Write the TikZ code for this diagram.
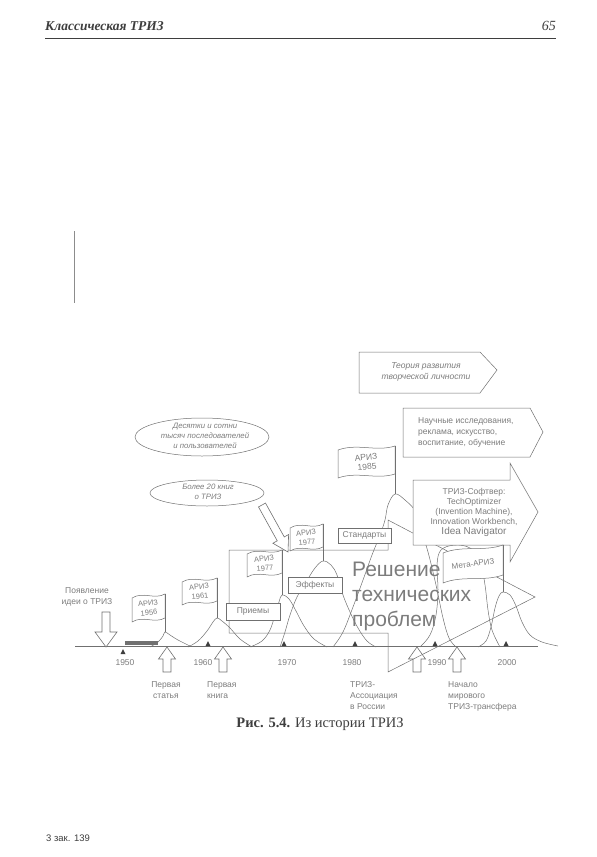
\documentclass[tikz,border=0pt]{standalone}
\usepackage{fontspec}
\setmainfont{Liberation Serif}
\setsansfont{Liberation Sans}
\usetikzlibrary{calc}
\definecolor{inkgray}{HTML}{707070}
\definecolor{textgray}{HTML}{7C7C7C}
\definecolor{headgray}{HTML}{3E3E3E}
\tikzset{
  hill/.style={inkgray,line width=0.5pt},
  flagbody/.style={draw=inkgray,fill=white,line width=0.5pt},
  tagbox/.style={draw=inkgray,fill=white,line width=0.5pt,text=textgray,
    font=\sffamily\fontsize{8.5}{10}\selectfont,inner sep=0pt},
  post/.style={draw=inkgray,fill=white,line width=0.5pt},
  hollow/.style={draw=inkgray,fill=white,line width=0.6pt},
  lbl/.style={text=textgray,font=\sffamily\fontsize{8.5}{11}\selectfont,inner sep=0pt,align=left},
  ilbl/.style={lbl,font=\sffamily\itshape\fontsize{7.8}{10}\selectfont,align=center},
  flagtext/.style={text=textgray,inner sep=0pt,align=center,rotate=6}
}
\begin{document}
\begin{tikzpicture}[x=1pt,y=-1pt]
  \useasboundingbox (0,0) rectangle (597,857);
  % running head
  \node[anchor=base west,inner sep=0,text=headgray,font=\bfseries\itshape\fontsize{13.5}{16}\selectfont] (runhead) at (45,30) {Классическая ТРИЗ};
  \node[anchor=base east,inner sep=0,text=headgray,font=\itshape\fontsize{14}{16}\selectfont] (pageno) at (556,30) {65};
  \draw[headgray,line width=0.6pt] (45,38) -- (556,38);
  \draw[black!45,line width=1pt] (74,231) -- (74,303);

  % development curves
  \draw[hill] plot[smooth,tension=0.6] coordinates {(150,647) (158,642) (163,636) (165,632) (170,635) (178,640) (190,646)};
  \draw[hill] plot[smooth,tension=0.6] coordinates {(188,647) (198,641) (207,631) (213,622) (217,618) (222,621) (230,628) (240,639) (252,647)};
  \draw[hill] plot[smooth,tension=0.6] coordinates {(250,647) (262,641) (270,630) (275,615) (279,602) (282,595) (289,599) (296,611) (304,626) (314,639) (327,647)};
  \draw[hill] plot[smooth,tension=0.6] coordinates {(280,647) (285,632) (290,615) (297,597) (306,582) (315,568) (323,561) (331,565) (337,575) (343,595) (350,612) (358,628) (367,641) (376,647)};
  \draw[hill] plot[smooth,tension=0.6] coordinates {(333,647) (343,632) (353,607) (363,580) (372,555) (380,535) (385,520) (388,505) (395,494) (405,500) (416,512) (421,530) (428,552) (436,585) (443,618) (449,638) (456,647)};
  \draw[hill] plot[smooth,tension=0.6] coordinates {(420,647) (430,635) (436,615) (438,590) (437,565) (441,550) (455,545) (470,548) (480,560) (485,585) (488,610) (492,630) (500,647)};
  \draw[hill] plot[smooth,tension=0.6] coordinates {(478,647) (486,641) (491,627) (495,608) (499,596) (503,592) (510,595) (516,606) (522,622) (530,635) (542,642) (558,646)};

  % time axis
  \draw[inkgray,line width=0.6pt] (75,646) -- (538,646);
  \fill[inkgray] (125,641) rectangle (158,645);
  \fill[headgray] (120.5,654) -- (125.5,654) -- (123,649) -- cycle;
  \foreach \tx in {208,284,355,435,506}
    \fill[headgray] (\tx-2.5,646) -- (\tx+2.5,646) -- (\tx,641) -- cycle;
  \foreach \yr/\yx in {1950/125,1960/203,1970/287,1980/352,1990/437,2000/507}
    \node[lbl] (y\yr) at (\yx,663) {\yr};

  % events below the axis
  \foreach \ax in {167,223,417,457}
    \draw[hollow] (\ax,647) -- (\ax+8.5,659) -- (\ax+4,659) -- (\ax+4,672)
      -- (\ax-4,672) -- (\ax-4,659) -- (\ax-8.5,659) -- cycle;
  \draw[hollow] (106,647) -- (117,632) -- (110,632) -- (110,612) -- (102,612)
    -- (102,632) -- (95,632) -- cycle;
  \node[lbl,align=center] (idea) at (87,597) {Появление\\идеи о ТРИЗ};
  \node[lbl,align=center,anchor=north] (article) at (166,681) {Первая\\статья};
  \node[lbl,anchor=north west] (book) at (207,681) {Первая\\книга};
  \node[lbl,anchor=north west] (assoc) at (350,681) {ТРИЗ-\\Ассоциация\\в России};
  \node[lbl,anchor=north west] (transfer) at (448,681) {Начало\\мирового\\ТРИЗ-трансфера};

  % problem solving arrow
  \draw[hill] (229,550) -- (388,550) -- (388,520) -- (535,597) -- (388,672)
    -- (388,633) -- (229,633) -- cycle;
  \node[tagbox,minimum width=54pt,minimum height=17pt] (priemy) at (253,611.5) {Приемы};
  \node[tagbox,minimum width=54pt,minimum height=16pt] (effekty) at (315,585) {Эффекты};
  \node[tagbox,minimum width=53pt,minimum height=15pt] (standarty) at (364.5,535.5) {Стандарты};

  % flags
  \foreach \nm/\px/\py/\fw/\fh/\pb/\fs/\txt in {
      f56/165/594/33/24/632/7.5/{АРИЗ\\1956},
      f61/217/578/35/23/618/7.5/{АРИЗ\\1961},
      f77a/282/550/35/23/595/7.5/{АРИЗ\\1977},
      f77b/323/524/33/23/561/7.5/{АРИЗ\\1977},
      f85/395/446/57/28/494/8.5/{АРИЗ\\1985}}{
    \draw[flagbody] (\px-\fw,\py+4) .. controls (\px-0.66*\fw,\py-3) and (\px-0.33*\fw,\py+6) .. (\px,\py)
      -- (\px,\py+\fh) .. controls (\px-0.33*\fw,\py+\fh+6) and (\px-0.66*\fw,\py+\fh-3) .. (\px-\fw,\py+\fh+4) -- cycle;
    \draw[hill] (\px,\py) -- (\px,\pb);
    \node[flagtext,font=\sffamily\fontsize{\fs}{9.5}\selectfont] (\nm) at (\px-0.5*\fw,\py+0.5*\fh+2) {\txt};
  }
  % followers and books
  \draw[hill] (202,437) ellipse (67 and 19);
  \node[ilbl] (followers) at (205,436) {Десятки и сотни\\тысяч последователей\\и пользователей};
  \draw[hill] (207,493) ellipse (57 and 13);
  \node[ilbl] (books) at (208,492) {Более 20 книг\\о ТРИЗ};
  \coordinate (bk0) at (262,505);
  \coordinate (bk1) at (288,552);
  \coordinate (bkh) at ($(bk1)!15pt!(bk0)$);
  \draw[hollow] ($(bk0)!4pt!90:(bk1)$) -- ($(bkh)!4pt!90:(bk1)$) -- ($(bkh)!9pt!90:(bk1)$)
    -- (bk1) -- ($(bkh)!9pt!-90:(bk1)$) -- ($(bkh)!4pt!-90:(bk1)$) -- ($(bk0)!4pt!-90:(bk1)$) -- cycle;

  % directions
  \draw[post] (359,352) -- (480,352) -- (497,370) -- (480,393) -- (359,393) -- cycle;
  \node[ilbl,font=\sffamily\itshape\fontsize{8.5}{11}\selectfont] (theory) at (426,372) {Теория развития\\творческой личности};
  \draw[post] (403,408) -- (530,408) -- (543,432) -- (530,457) -- (403,457) -- cycle;
  \node[lbl,anchor=west] (research) at (418,432) {Научные исследования,\\реклама, искусство,\\воспитание, обучение};
  \draw[post] (413,480) -- (510,480) -- (510,463) -- (538,512) -- (510,562) -- (510,545) -- (413,545) -- cycle;
  \node[lbl,align=center,font=\sffamily\fontsize{8.5}{10}\selectfont] (software) at (474,512)
    {ТРИЗ-Софтвер:\\TechOptimizer\\(Invention Machine),\\Innovation Workbench,\\{\fontsize{10}{10}\selectfont Idea Navigator}};
  % meta flag on top of the software arrow
  \draw[flagbody] (443,553) .. controls (463,545) and (483,552) .. (503,545)
    -- (503,575) .. controls (483,582) and (463,575) .. (443,583) -- cycle;
  \draw[hill] (503,545) -- (503,592);
  \node[flagtext,rotate=2,font=\sffamily\fontsize{8}{9}\selectfont] (fmeta) at (473,564) {Мета-АРИЗ};

  \node[anchor=north west,inner sep=0,text=textgray,align=left,font=\sffamily\fontsize{21}{25}\selectfont] (solving) at (352,562)
    {Решение\\технических\\проблем};

  % caption and footer
  \node[anchor=base,inner sep=0,text=headgray,font=\fontsize{14.5}{17}\selectfont] (caption) at (320,727) {\textbf{Рис. 5.4.} Из истории ТРИЗ};
  \node[anchor=base west,inner sep=0,text=headgray,font=\sffamily\fontsize{9.5}{11}\selectfont] (footer) at (46,841) {3 зак. 139};
\end{tikzpicture}
\end{document}
